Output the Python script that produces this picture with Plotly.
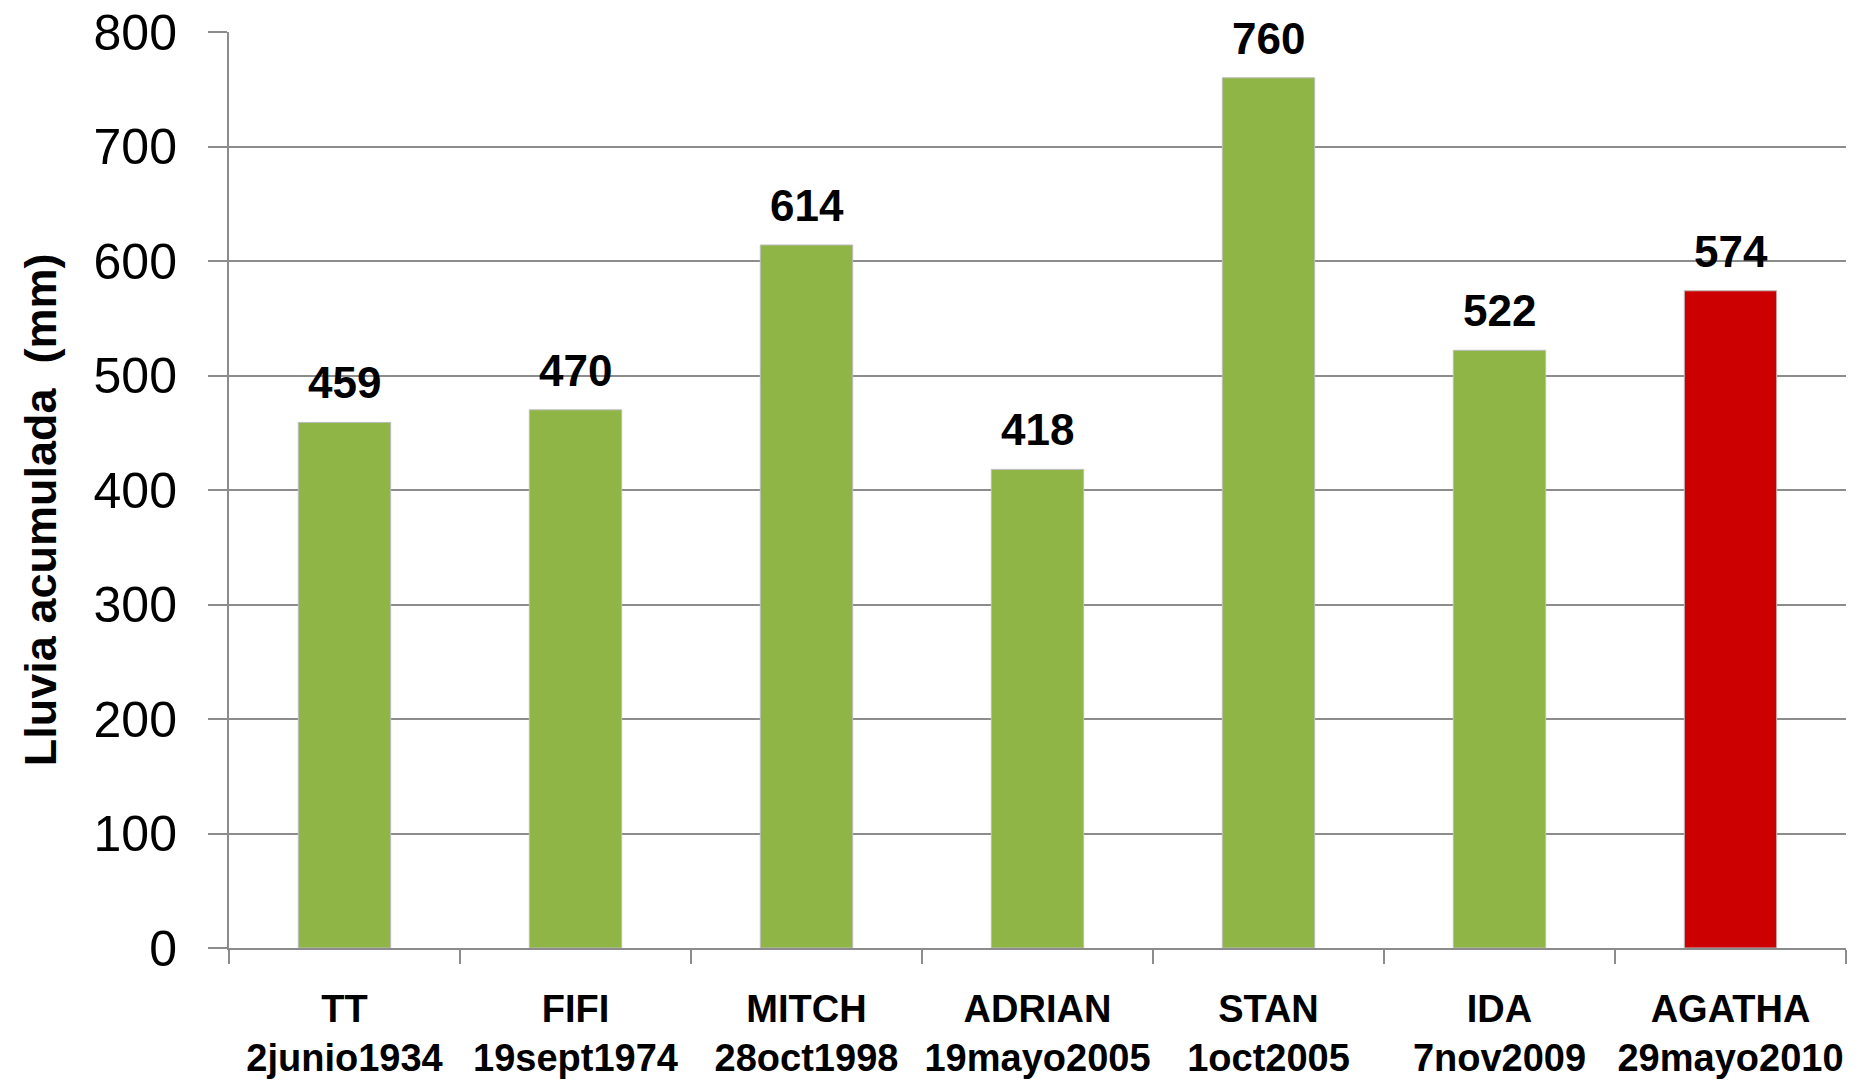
import plotly.graph_objects as go

names = ["TT", "FIFI", "MITCH", "ADRIAN", "STAN", "IDA", "AGATHA"]
dates = ["2junio1934", "19sept1974", "28oct1998", "19mayo2005", "1oct2005", "7nov2009", "29mayo2010"]
rain_mm = [459, 470, 614, 418, 760, 522, 574]
bar_colors = ["#8fb547", "#8fb547", "#8fb547", "#8fb547", "#8fb547", "#8fb547", "#cc0000"]
y_ticks = [0, 100, 200, 300, 400, 500, 600, 700, 800]
y_title = "Lluvia acumulada  (mm)"

categories = [f"{n}<br>{d}" for n, d in zip(names, dates)]

fig = go.Figure()
fig.add_trace(go.Bar(
    x=categories,
    y=rain_mm,
    marker=dict(color=bar_colors, line=dict(color="#bdbdbd", width=1)),
    width=0.4,
    hoverinfo="x+y",
))

for c, v in zip(categories, rain_mm):
    fig.add_annotation(
        x=c, y=v, text=f"<b>{v}</b>", showarrow=False,
        yanchor="bottom", yshift=13,
        font=dict(family="Liberation Sans, Arial, sans-serif", size=44, color="black"),
    )

fig.add_annotation(
    xref="paper", yref="paper", x=0, y=0.478, xanchor="center", yanchor="middle",
    xshift=-189, textangle=-90, showarrow=False,
    text=f"<b>{y_title}</b>",
    font=dict(family="Liberation Sans Narrow, Liberation Sans, Arial, sans-serif", size=45, color="black"),
)

fig.update_layout(
    width=1842, height=1073,
    margin=dict(l=221, r=4, t=24, b=133, autoexpand=False),
    plot_bgcolor="white", paper_bgcolor="white",
    showlegend=False,
    bargap=0.6,
)
fig.update_xaxes(
    automargin=False, tickangle=0, ticklabeloverflow="allow",
    showline=True, linecolor="#8c8c8c", linewidth=2,
    ticks="outside", tickson="boundaries", ticklen=14, tickcolor="#8c8c8c", tickwidth=2,
    tickfont=dict(family="Liberation Sans Narrow, Liberation Sans, Arial, sans-serif", size=38, color="black", weight="bold"),
    ticklabelstandoff=26,
    showgrid=False,
)
fig.update_yaxes(
    automargin=False, ticklabeloverflow="allow",
    range=[0, 800], tickvals=y_ticks,
    showline=True, linecolor="#8c8c8c", linewidth=2,
    ticks="outside", ticklen=19, tickcolor="#8c8c8c", tickwidth=2,
    showgrid=True, gridcolor="#8c8c8c", gridwidth=2,
    tickfont=dict(family="Liberation Sans, Arial, sans-serif", size=50, color="black"),
    ticklabelstandoff=21,
    zeroline=False,
)

fig.write_html("out.html")
